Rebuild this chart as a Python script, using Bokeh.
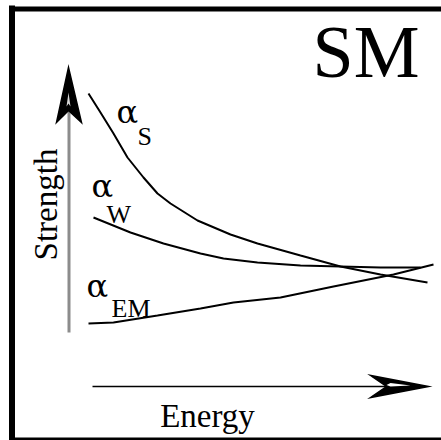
from bokeh.plotting import figure
from bokeh.models import Range1d
from bokeh.core.properties import value
from bokeh.embed import file_html
from bokeh.resources import INLINE

# Running couplings in the Standard Model (schematic): strength vs. energy
energy_s = [88, 100, 113, 127, 143, 157, 170, 197, 230, 257, 300, 340, 380, 427]
strength_s = [347, 328, 307, 283, 263, 247, 237, 220, 206, 197, 185, 174, 166, 158]

energy_w = [93, 130, 163, 200, 223, 257, 300, 340, 380, 420]
strength_w = [223, 208, 197, 187, 182, 178, 175, 174, 173, 173]

energy_em = [88, 113, 157, 200, 233, 280, 333, 393, 433]
strength_em = [117, 118, 125, 132, 138, 143, 154, 166, 176]

title_text = "SM"
x_label = "Energy"
y_label = "Strength"
alpha = "\u03b1"
sub_labels = ["S", "W", "EM"]

W, H = 441, 440
SERIF = "Liberation Serif"
# the svg text box sits a little low; lift baselines by this fraction of the size
LIFT = 0.36

p = figure(width=W, height=H, x_range=Range1d(0, W), y_range=Range1d(0, H),
           x_axis_type=None, y_axis_type=None, toolbar_location=None,
           output_backend="svg", min_border=0)
p.grid.visible = False
p.outline_line_color = None
p.background_fill_color = "white"
p.border_fill_color = "white"


def label(xs, ys_top, texts, size, align="left", angle=0.0, font=SERIF):
    """Place texts with their baseline at the given distance from the top edge."""
    if angle:
        xs = [x - LIFT * size for x in xs]
        ys = [H - y for y in ys_top]
    else:
        ys = [H - y + LIFT * size for y in ys_top]
    p.text(x=xs, y=ys, text=texts, text_font=value(font), text_font_size=f"{size}px",
           text_align=align, text_baseline="alphabetic", angle=angle,
           text_color="black")


# frame around the panel (right side runs off the edge)
p.line([11.5, 11.5], [0, H - 5], line_color="black", line_width=6)
p.line([8.5, W], [H - 8.5, H - 8.5], line_color="black", line_width=5)
p.line([8.5, W], [1.5, 1.5], line_color="black", line_width=3)

# vertical "Strength" arrow
p.line([68.5, 68.5], [108, 330], line_color="#8c8c8c", line_width=3)
p.patch([68, 81, 68, 56], [373, 318, 330, 318], fill_color="black",
        line_color="black", line_width=1.5, line_join="miter")
p.patch([68, 70, 68, 66], [348, 334, 337, 334], fill_color="#d8d8d8",
        line_color=None)

# horizontal "Energy" arrow
p.line([92, 392], [54, 54], line_color="black", line_width=1.5)
p.patch([428, 370, 386, 370], [54, 65, 54, 43], fill_color="black",
        line_color="black", line_width=1.5, line_join="miter")
p.patch([410, 390, 386, 390], [55, 57.5, 55.5, 54], fill_color="white",
        line_color=None)

# coupling curves
for xs, ys in ((energy_s, strength_s), (energy_w, strength_w), (energy_em, strength_em)):
    p.line(xs, ys, line_color="black", line_width=2)

# labels
label([312], [78], [title_text], 74)
label([207], [427], [x_label], 33, align="center")
label([57], [204], [y_label], 33, align="center", angle=1.5708)

label([116, 91, 86], [123, 197, 297], [alpha] * 3, 32, font="DejaVu Serif")
label([137, 106, 111], [145, 223, 317], sub_labels, 26)

open("out.html", "w").write(file_html(p, INLINE))
